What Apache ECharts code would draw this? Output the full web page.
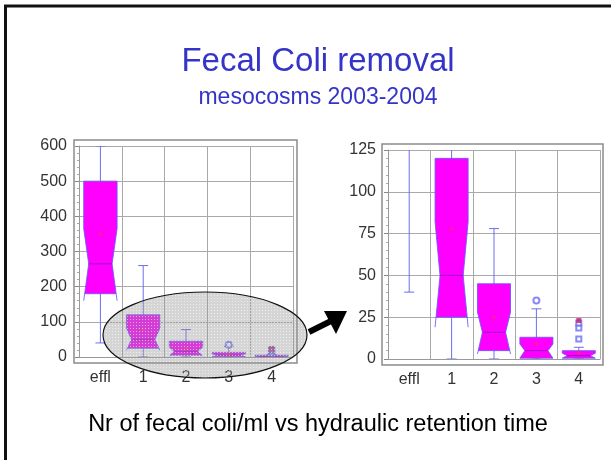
<!DOCTYPE html>
<html lang="en">
  <head>
    <meta charset="UTF-8" />
    <title>Fecal Coli removal</title>
    <script src="https://cdn.jsdelivr.net/npm/echarts@6/dist/echarts.min.js"></script>
    <style>
      html, body { margin: 0; padding: 0; background: #fff; }
      #chart { width: 611px; height: 460px; }
    </style>
  </head>
  <body>
    <div id="chart"></div>
    <script>
      // categories: effluent and hydraulic retention time
      const categories = ["effl", "1", "2", "3", "4"];

      // box statistics per category (fecal coli / ml)
      const whiskerLow = [40, 0, 0, 0, 0];
      const q1 = [180, 25, 5, 0.5, 0.5];
      const notchLow = [160, 19, 3, 0.5, 0.5];
      const median = [265, 50, 16, 5, 2];
      const notchHigh = [365, 82, 28, 9, 3.5];
      const q3 = [500, 120, 45, 13, 5];
      const whiskerHigh = [600, 260, 78, 30, 7];
      const means = [350, 78, 25, 9, 4];

      // outliers: [category index, value]
      const circleOutliers = [[3, 35]];
      const squareOutliers = [[4, 12], [4, 18.5], [4, 21.5]];
      const redOutliers = [[4, 23]];

      const leftTicks = { min: 0, max: 600, interval: 100 };
      const rightTicks = { min: 0, max: 125, interval: 25 };

      const boxData = categories.map((c, i) => [
        i, whiskerLow[i], q1[i], notchLow[i], median[i],
        notchHigh[i], q3[i], whiskerHigh[i], means[i]
      ]);

      const FILL = "#ff00ff";
      const EDGE = "rgba(100,90,255,0.85)";
      const WHISK = "#6d6df2";

      function renderBox(params, api) {
        const i = api.value(0);
        const lo = api.value(1), b1 = api.value(2), nLo = api.value(3);
        const med = api.value(4), nHi = api.value(5), b3 = api.value(6);
        const hi = api.value(7), mean = api.value(8);
        const y = (v) => api.coord([i, v])[1];
        const cx = api.coord([i, 0])[0];
        const half = api.size([1, 0])[0] * 0.39;
        const nw = half * 0.7;
        const halfAt = (v) => {
          if (v >= nHi || v <= nLo) return half;
          if (v >= med) return nw + (half - nw) * (v - med) / (nHi - med);
          return nw + (half - nw) * (med - v) / (med - nLo);
        };
        const kids = [];
        const line = (x1, y1, x2, y2, color, w) => kids.push({
          type: "line",
          shape: { x1: x1, y1: y1, x2: x2, y2: y2 },
          style: { stroke: color, lineWidth: w || 1 }
        });
        // whisker + caps
        line(cx, y(lo), cx, y(hi), WHISK);
        line(cx - 5, y(lo), cx + 5, y(lo), WHISK);
        line(cx - 5, y(hi), cx + 5, y(hi), WHISK);
        // notched box
        let pts;
        if (b1 > nLo) {
          const h1 = halfAt(b1);
          pts = [
            [cx - half, y(b3)], [cx + half, y(b3)], [cx + half, y(nHi)],
            [cx + nw, y(med)], [cx + h1, y(b1)], [cx - h1, y(b1)],
            [cx - nw, y(med)], [cx - half, y(nHi)]
          ];
        } else {
          pts = [
            [cx - half, y(b3)], [cx + half, y(b3)], [cx + half, y(nHi)],
            [cx + nw, y(med)], [cx + half, y(nLo)], [cx + half, y(b1)],
            [cx - half, y(b1)], [cx - half, y(nLo)], [cx - nw, y(med)],
            [cx - half, y(nHi)]
          ];
        }
        kids.push({
          type: "polygon",
          shape: { points: pts },
          style: { fill: FILL, stroke: EDGE, lineWidth: 1 }
        });
        if (b1 > nLo) {
          const h1 = halfAt(b1);
          line(cx + h1, y(b1), cx + half, y(nLo), EDGE);
          line(cx - h1, y(b1), cx - half, y(nLo), EDGE);
        }
        // median
        line(cx - nw, y(med), cx + nw, y(med), "#a010c8", 1);
        // mean marker
        line(cx - 2, y(mean), cx + 2, y(mean), "#ff2a6a", 1);
        line(cx, y(mean) - 2, cx, y(mean) + 2, "#ff2a6a", 1);
        return { type: "group", children: kids };
      }

      // dotted overlay pattern for the ellipse
      const pat = document.createElement("canvas");
      pat.width = 3;
      pat.height = 3;
      const pctx = pat.getContext("2d");
      pctx.fillStyle = "rgba(150,150,150,0.4)";
      pctx.fillRect(0, 0, 3, 3);
      pctx.fillStyle = "rgba(255,255,255,0.55)";
      pctx.fillRect(1, 1, 1, 1);

      const font = "Liberation Sans";
      const axisLabel = { color: "#333", fontSize: 16, fontFamily: font };

      function yAxis(idx, t) {
        return {
          type: "value",
          gridIndex: idx,
          min: t.min,
          max: t.max,
          interval: t.interval,
          axisLine: { show: true, lineStyle: { color: "#999" } },
          axisTick: { show: true, length: 4, lineStyle: { color: "#888" } },
          minorTick: { show: true, splitNumber: 5, length: 2, lineStyle: { color: "#aaa" } },
          splitLine: { show: true, lineStyle: { color: "#a9a9a9", width: 1 } },
          axisLabel: Object.assign({ margin: 12 }, axisLabel)
        };
      }

      function xAxis(idx) {
        return {
          type: "category",
          gridIndex: idx,
          data: categories,
          axisLine: { show: true, lineStyle: { color: "#999" } },
          axisTick: { show: false },
          splitLine: { show: true, interval: 0, lineStyle: { color: "#a9a9a9", width: 1 } },
          axisLabel: Object.assign({ margin: 13, interval: 0 }, axisLabel)
        };
      }

      function seriesFor(idx) {
        return [
          {
            type: "custom",
            xAxisIndex: idx,
            yAxisIndex: idx,
            renderItem: renderBox,
            clip: true,
            data: boxData,
            encode: { x: 0, y: [1, 7] }
          },
          {
            type: "scatter",
            xAxisIndex: idx,
            yAxisIndex: idx,
            symbol: "emptyCircle",
            symbolSize: 6,
            itemStyle: { color: WHISK, borderWidth: 1 },
            data: circleOutliers,
            clip: true
          },
          {
            type: "scatter",
            xAxisIndex: idx,
            yAxisIndex: idx,
            symbol: "emptyRect",
            symbolSize: 5,
            itemStyle: { color: WHISK, borderWidth: 1 },
            data: squareOutliers,
            clip: true
          },
          {
            type: "scatter",
            xAxisIndex: idx,
            yAxisIndex: idx,
            symbol: "rect",
            symbolSize: 5,
            itemStyle: { color: "#c0206a" },
            data: redOutliers,
            clip: true
          }
        ];
      }

      const chart = echarts.init(document.getElementById("chart"));

      chart.setOption({
        animation: false,
        backgroundColor: "#fff",
        grid: [
          { left: 79, width: 214, top: 146, height: 211 },
          { left: 388, width: 212, top: 150, height: 209 }
        ],
        xAxis: [xAxis(0), xAxis(1)],
        yAxis: [yAxis(0, leftTicks), yAxis(1, rightTicks)],
        series: seriesFor(0).concat(seriesFor(1)),
        graphic: [
          // slide border
          { type: "line", z: 100, shape: { x1: 4, y1: 6, x2: 611, y2: 6 }, style: { stroke: "#111", lineWidth: 3 } },
          { type: "line", z: 100, shape: { x1: 5.5, y1: 5, x2: 5.5, y2: 460 }, style: { stroke: "#111", lineWidth: 3 } },
          // plot frames
          { type: "rect", z: 50, shape: { x: 74, y: 140, width: 223, height: 223 }, style: { fill: null, stroke: "#8c8c8c", lineWidth: 1.5 } },
          { type: "rect", z: 50, shape: { x: 382, y: 144, width: 221, height: 221 }, style: { fill: null, stroke: "#8c8c8c", lineWidth: 1.5 } },
          // texts
          { type: "text", z: 100, x: 318, y: 62, style: { text: "Fecal Coli removal", font: "33px 'Liberation Sans'", fill: "#3434c8", align: "center", verticalAlign: "middle" } },
          { type: "text", z: 100, x: 318, y: 98, style: { text: "mesocosms 2003-2004", font: "23px 'Liberation Sans'", fill: "#3434c8", align: "center", verticalAlign: "middle" } },
          { type: "text", z: 100, x: 318, y: 425, style: { text: "Nr of fecal coli/ml vs hydraulic retention time", font: "23.5px 'Liberation Sans'", fill: "#000", align: "center", verticalAlign: "middle" } },
          // zoom ellipse
          { type: "ellipse", z: 100, shape: { cx: 205, cy: 335, rx: 102, ry: 43 }, style: { fill: { image: pat, repeat: "repeat" }, stroke: "#111", lineWidth: 1.2 } },
          // arrow
          { type: "line", z: 100, shape: { x1: 309, y1: 332, x2: 331, y2: 321 }, style: { stroke: "#000", lineWidth: 6 } },
          { type: "polygon", z: 100, shape: { points: [[347, 311], [324, 311], [336, 334]] }, style: { fill: "#000" } }
        ]
      });
    </script>
  </body>
</html>
